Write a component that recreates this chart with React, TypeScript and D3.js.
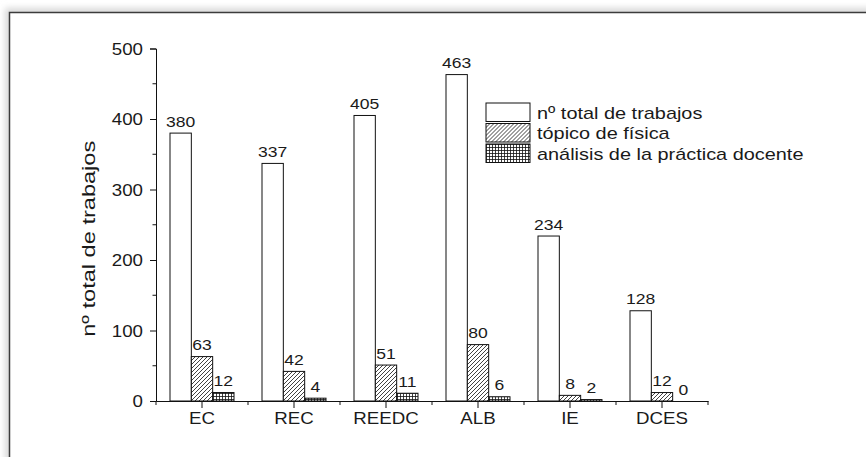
import React, { useEffect, useRef } from 'react';
import * as d3 from 'd3';

// categories and series
const categories = ['EC', 'REC', 'REEDC', 'ALB', 'IE', 'DCES'];
const seriesNames = ['nº total de trabajos', 'tópico de física', 'análisis de la práctica docente'];
const totalTrabajos = [380, 337, 405, 463, 234, 128];
const topicoFisica = [63, 42, 51, 80, 8, 12];
const practicaDocente = [12, 4, 11, 6, 2, 0];
const yTicks = [0, 100, 200, 300, 400, 500];

const fills = ['#ffffff', 'url(#hatch)', 'url(#grid)'];
const FONT = '"Liberation Sans", Arial, sans-serif';
const SX = 1.17; // the original text is a bit wider than tall

export default function App() {
  const svgRef = useRef<SVGSVGElement>(null);

  useEffect(() => {
    const width = 866;
    const height = 457;
    const margin = { top: 48.5, left: 156, right: 158, bottom: 56 };

    const svg = d3.select(svgRef.current);
    svg.selectAll('*').remove();
    svg.attr('width', width).attr('height', height);

    const defs = svg.append('defs');

    const shadow = defs.append('filter').attr('id', 'soft')
      .attr('x', '-5%').attr('y', '-5%').attr('width', '110%').attr('height', '110%');
    shadow.append('feGaussianBlur').attr('stdDeviation', 3);

    const hatch = defs.append('pattern').attr('id', 'hatch')
      .attr('patternUnits', 'userSpaceOnUse').attr('width', 4).attr('height', 4);
    hatch.append('rect').attr('width', 4).attr('height', 4).attr('fill', '#fff');
    hatch.append('path')
      .attr('d', 'M-1,1 l2,-2 M0,4 l4,-4 M3,5 l2,-2')
      .attr('stroke', '#111').attr('stroke-width', 0.8);

    const grid = defs.append('pattern').attr('id', 'grid')
      .attr('patternUnits', 'userSpaceOnUse').attr('width', 3).attr('height', 3);
    grid.append('rect').attr('width', 3).attr('height', 3).attr('fill', '#fff');
    grid.append('path')
      .attr('d', 'M0,0.5 H3 M0.5,0 V3')
      .attr('stroke', '#111').attr('stroke-width', 0.8);

    // frame with soft shadow
    svg.append('rect')
      .attr('x', 5).attr('y', 8).attr('width', 920).attr('height', 520)
      .attr('fill', '#d8d8d8').attr('filter', 'url(#soft)');
    svg.append('rect')
      .attr('x', 9.5).attr('y', 12.5).attr('width', 920).attr('height', 520)
      .attr('fill', '#fff').attr('stroke', '#3c3c3c').attr('stroke-width', 1.5);

    const x0 = d3.scaleBand()
      .domain(categories)
      .range([margin.left, width - margin.right])
      .padding(0);

    const x1 = d3.scaleBand()
      .domain(seriesNames)
      .range([14, x0.bandwidth() - 14])
      .padding(0);

    const y = d3.scaleLinear()
      .domain([0, 500])
      .range([height - margin.bottom, margin.top]);

    const g = svg.append('g');

    const rows = categories.map((c, i) => ({
      cat: c,
      values: [totalTrabajos[i], topicoFisica[i], practicaDocente[i]],
    }));

    // bars
    const groups = g.selectAll('.grp')
      .data(rows)
      .enter().append('g')
      .attr('class', 'grp')
      .attr('transform', d => `translate(${x0(d.cat)},0)`);

    groups.selectAll('rect')
      .data(d => d.values.map((v, k) => ({ v, k })))
      .enter().append('rect')
      .filter(d => d.v > 0)
      .attr('x', d => x1(seriesNames[d.k])!)
      .attr('y', d => y(d.v))
      .attr('width', x1.bandwidth())
      .attr('height', d => y(0) - y(d.v))
      .attr('fill', d => fills[d.k])
      .attr('stroke', '#111')
      .attr('stroke-width', 1);

    groups.selectAll('text')
      .data(d => d.values.map((v, k) => ({ v, k })))
      .enter().append('text')
      .attr('transform', d =>
        `translate(${x1(seriesNames[d.k])! + x1.bandwidth() / 2},${y(d.v) - 6.5}) scale(${SX},1)`)
      .attr('text-anchor', 'middle')
      .attr('font-family', FONT)
      .attr('font-size', 15)
      .attr('fill', '#1a1a1a')
      .text(d => d.v);

    // y axis
    const yAxis = d3.axisLeft(y).tickValues(yTicks).tickSize(6).tickPadding(7);
    const ya = g.append('g')
      .attr('transform', `translate(${margin.left},0)`)
      .call(yAxis);
    ya.select('.domain').attr('stroke', '#111');
    ya.selectAll('.tick line').attr('stroke', '#111');
    ya.selectAll('.tick text')
      .attr('x', null)
      .attr('dy', '0.36em')
      .attr('transform', `translate(-13,0) scale(${SX},1)`)
      .attr('font-family', FONT)
      .attr('font-size', 16)
      .attr('fill', '#1a1a1a');
    ya.selectAll('.minor')
      .data(d3.range(50, 500, 100))
      .enter().append('line')
      .attr('class', 'minor')
      .attr('x1', -3.5).attr('x2', 0)
      .attr('y1', d => y(d)).attr('y2', d => y(d))
      .attr('stroke', '#111');

    // x axis
    const xAxis = d3.axisBottom(x0).tickSize(7).tickPadding(5).tickSizeOuter(0);
    const xa = g.append('g')
      .attr('transform', `translate(0,${y(0)})`)
      .call(xAxis);
    xa.select('.domain').attr('stroke', '#111');
    xa.selectAll('.tick line').attr('stroke', '#111');
    xa.selectAll('.tick text')
      .attr('y', null)
      .attr('transform', `translate(0,12) scale(${SX},1)`)
      .attr('font-family', FONT)
      .attr('font-size', 16)
      .attr('fill', '#1a1a1a');
    const bounds = categories.map(c => x0(c)!).concat([x0.range()[1]]);
    xa.selectAll('.minor')
      .data(bounds)
      .enter().append('line')
      .attr('class', 'minor')
      .attr('x1', d => d).attr('x2', d => d)
      .attr('y1', 0).attr('y2', 4)
      .attr('stroke', '#111');

    // y title
    svg.append('text')
      .attr('transform', `translate(95,${(y(0) + y(500)) / 2 + 14}) rotate(-90)`)
      .attr('text-anchor', 'middle')
      .attr('font-family', FONT)
      .attr('font-size', 19)
      .attr('textLength', 196)
      .attr('lengthAdjust', 'spacingAndGlyphs')
      .attr('fill', '#1a1a1a')
      .text('nº total de trabajos');

    // legend
    const legend = svg.append('g').attr('transform', 'translate(486,103)');
    const items = legend.selectAll('g')
      .data(seriesNames)
      .enter().append('g')
      .attr('transform', (d, i) => `translate(0,${i * 20.5})`);
    items.append('rect')
      .attr('width', 44).attr('height', 18.5)
      .attr('fill', (d, i) => fills[i])
      .attr('stroke', '#111').attr('stroke-width', 1);
    items.append('text')
      .attr('transform', `translate(51,15.5) scale(${SX},1)`)
      .attr('font-family', FONT)
      .attr('font-size', 17)
      .attr('fill', '#1a1a1a')
      .text(d => d);
  }, []);

  return (
    <svg ref={svgRef} style={{ position: 'absolute', left: 0, top: 0 }}></svg>
  );
}
